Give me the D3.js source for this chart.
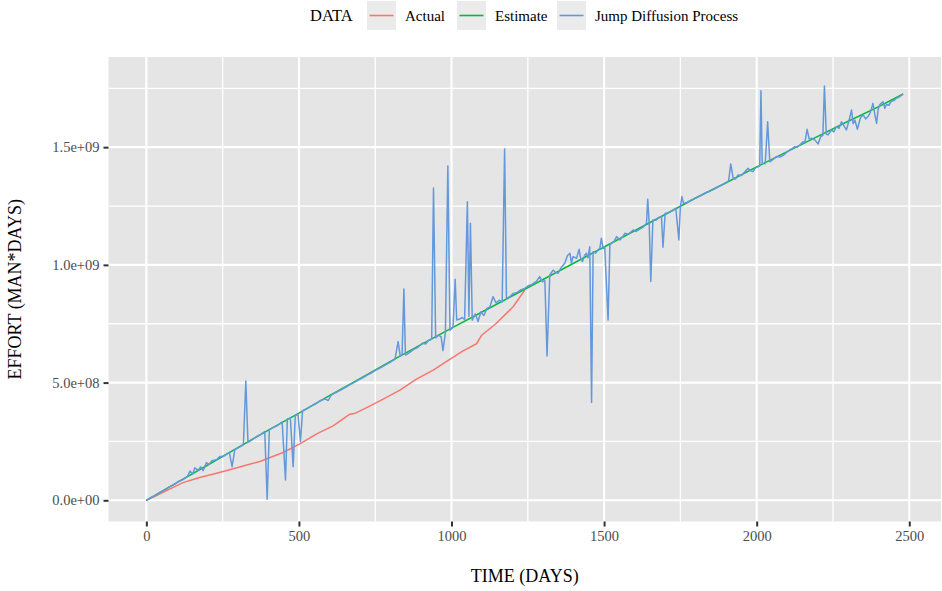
<!DOCTYPE html>
<html>
<head>
<meta charset="utf-8">
<script src="https://cdn.jsdelivr.net/npm/d3@7"></script>
<style>
  html, body { margin: 0; padding: 0; background: #ffffff; }
  svg { display: block; }
  text { font-family: "Liberation Serif", "DejaVu Serif", serif; }
</style>
</head>
<body>
<svg id="chart" width="942" height="591"></svg>
<script>
// ---------------- DATA (values in units of 1e9 man*days) ----------------
const seriesNames = ["Actual", "Estimate", "Jump Diffusion Process"];
const seriesColors = ["#F8766D", "#00BA38", "#6398DB"];
const legendTitle = "DATA";
const xTitle = "TIME (DAYS)";
const yTitle = "EFFORT (MAN*DAYS)";

const xTicks = [0, 500, 1000, 1500, 2000, 2500];
const xTickLabels = ["0", "500", "1000", "1500", "2000", "2500"];
const xMinor = [250, 750, 1250, 1750, 2250];
const yTicks = [0, 5e8, 1e9, 1.5e9];
const yTickLabels = ["0.0e+00", "5.0e+08", "1.0e+09", "1.5e+09"];
const yMinor = [2.5e8, 7.5e8, 1.25e9, 1.75e9];

const actual = [[0,0],[30,0.018],[66,0.041],[120,0.075],[175,0.097],[230,0.115],[285,0.134],[317,0.146],
  [372,0.165],[448,0.203],[503,0.240],[558,0.282],[612,0.316],[667,0.366],[685,0.370],[722,0.394],[776,0.430],
  [831,0.468],[885,0.515],[940,0.553],[984,0.590],[1038,0.635],[1082,0.665],[1098,0.700],[1147,0.752],
  [1202,0.822],[1240,0.893]];

const estimate = [[0,0],[100,0.075],[200,0.149],[300,0.224],[400,0.298],[500,0.370],[600,0.445],[700,0.517],
  [800,0.590],[900,0.661],[1000,0.731],[1100,0.800],[1200,0.869],[1300,0.938],[1400,1.007],[1500,1.076],
  [1600,1.145],[1700,1.214],[1800,1.284],[1900,1.349],[2000,1.416],[2100,1.481],[2200,1.546],[2300,1.610],
  [2400,1.672],[2480,1.726]];

const jump = [[0,0],[15,0.012],[30,0.021],[45,0.035],[60,0.043],[75,0.057],[90,0.066],[105,0.080],[120,0.088],
  [135,0.102],[143,0.124],[152,0.112],[159,0.138],[170,0.127],[178,0.142],[186,0.126],[197,0.160],[205,0.152],
  [215,0.168],[230,0.172],[241,0.186],[252,0.186],[263,0.196],[272,0.203],[281,0.143],[290,0.215],[305,0.226],
  [318,0.236],[326,0.507],[333,0.246],[345,0.256],[360,0.270],[375,0.280],[388,0.292],[396,0.005],[403,0.300],
  [415,0.309],[430,0.318],[445,0.332],[456,0.086],[462,0.345],[472,0.349],[481,0.143],[488,0.360],[497,0.365],
  [505,0.249],[512,0.381],[525,0.388],[540,0.400],[555,0.410],[570,0.423],[585,0.431],[596,0.424],[605,0.446],
  [620,0.457],[635,0.467],[650,0.478],[665,0.489],[680,0.500],[695,0.511],[710,0.521],[725,0.533],[740,0.543],
  [755,0.555],[770,0.565],[785,0.576],[800,0.587],[815,0.600],[825,0.674],[832,0.612],[838,0.618],[844,0.898],
  [849,0.617],[860,0.625],[875,0.640],[890,0.650],[905,0.668],[915,0.664],[925,0.680],[935,0.684],[941,1.327],
  [948,0.690],[958,0.702],[966,0.694],[972,0.636],[980,0.712],[988,1.420],[995,0.722],[1005,0.735],[1012,0.939],
  [1017,0.766],[1026,0.770],[1035,0.776],[1043,0.768],[1052,1.268],[1057,0.782],[1062,1.177],[1068,0.765],
  [1078,0.792],[1087,0.759],[1096,0.800],[1106,0.785],[1116,0.815],[1126,0.822],[1136,0.865],[1146,0.838],
  [1156,0.850],[1166,0.842],[1174,1.492],[1180,0.858],[1192,0.866],[1202,0.879],[1215,0.883],[1228,0.895],
  [1240,0.900],[1252,0.912],[1265,0.918],[1278,0.930],[1289,0.950],[1298,0.928],[1306,0.933],[1313,0.613],
  [1322,0.957],[1333,0.978],[1341,0.968],[1349,0.964],[1360,0.990],[1371,1.007],[1380,1.040],[1388,1.049],
  [1393,1.007],[1398,1.035],[1410,1.028],[1418,1.066],[1423,1.030],[1429,1.014],[1436,1.040],[1442,1.049],
  [1447,1.030],[1453,1.077],[1459,0.415],[1464,1.056],[1472,1.050],[1480,1.063],[1486,1.070],[1491,1.113],
  [1497,1.070],[1502,1.077],[1513,0.766],[1519,1.085],[1524,1.092],[1533,1.100],[1541,1.120],[1552,1.106],
  [1560,1.118],[1568,1.134],[1580,1.130],[1595,1.148],[1605,1.142],[1617,1.152],[1628,1.160],[1639,1.177],
  [1643,1.279],[1648,1.170],[1653,0.929],[1660,1.191],[1670,1.190],[1680,1.202],[1688,1.205],[1693,1.075],
  [1700,1.218],[1712,1.222],[1725,1.232],[1735,1.240],[1745,1.106],[1750,1.248],[1755,1.290],[1760,1.262],
  [1772,1.265],[1785,1.275],[1800,1.284],[1815,1.293],[1830,1.305],[1845,1.312],[1860,1.322],[1875,1.333],
  [1890,1.342],[1900,1.350],[1908,1.356],[1915,1.429],[1923,1.368],[1931,1.365],[1939,1.382],[1950,1.380],
  [1961,1.395],[1972,1.410],[1980,1.400],[1988,1.396],[1996,1.412],[2004,1.417],[2010,1.420],[2014,1.740],
  [2018,1.432],[2021,1.432],[2028,1.430],[2036,1.608],[2043,1.438],[2054,1.448],[2065,1.460],[2076,1.458],
  [2087,1.465],[2098,1.478],[2108,1.488],[2117,1.495],[2125,1.502],[2133,1.500],[2141,1.509],[2152,1.523],
  [2158,1.520],[2165,1.576],[2172,1.535],[2180,1.538],[2191,1.530],[2201,1.514],[2210,1.545],[2217,1.550],
  [2222,1.760],[2228,1.556],[2234,1.552],[2245,1.573],[2253,1.565],[2261,1.587],[2270,1.580],[2278,1.608],
  [2286,1.590],[2294,1.573],[2302,1.610],[2311,1.658],[2316,1.600],[2322,1.615],[2330,1.576],[2340,1.625],
  [2349,1.637],[2357,1.620],[2365,1.630],[2373,1.650],[2381,1.686],[2387,1.640],[2393,1.601],[2398,1.660],
  [2404,1.682],[2414,1.693],[2420,1.665],[2425,1.681],[2433,1.678],[2441,1.695],[2450,1.698],[2458,1.708],
  [2466,1.712],[2474,1.720],[2480,1.726]];

const UNIT = 1e9;

// ---------------- LAYOUT ----------------
const svg = d3.select("#chart");
const panel = { left: 108.5, right: 941, top: 57, bottom: 521.5 };

const x = d3.scaleLinear().domain([-124, 2604]).range([panel.left, panel.right]);
const y = d3.scaleLinear().domain([-0.09e9, 1.883e9]).range([panel.bottom, panel.top]);

// panel background
svg.append("rect")
  .attr("x", panel.left).attr("y", panel.top)
  .attr("width", panel.right - panel.left).attr("height", panel.bottom - panel.top)
  .attr("fill", "#E5E5E5");

const grid = svg.append("g");
grid.selectAll(".xm").data(xMinor).join("line")
  .attr("x1", d => x(d)).attr("x2", d => x(d))
  .attr("y1", panel.top).attr("y2", panel.bottom)
  .attr("stroke", "#fff").attr("stroke-width", 1.3);
grid.selectAll(".ym").data(yMinor).join("line")
  .attr("y1", d => y(d)).attr("y2", d => y(d))
  .attr("x1", panel.left).attr("x2", panel.right)
  .attr("stroke", "#fff").attr("stroke-width", 1.3);
grid.selectAll(".xM").data(xTicks).join("line")
  .attr("x1", d => x(d)).attr("x2", d => x(d))
  .attr("y1", panel.top).attr("y2", panel.bottom)
  .attr("stroke", "#fff").attr("stroke-width", 2.1);
grid.selectAll(".yM").data(yTicks).join("line")
  .attr("y1", d => y(d)).attr("y2", d => y(d))
  .attr("x1", panel.left).attr("x2", panel.right)
  .attr("stroke", "#fff").attr("stroke-width", 2.1);

// lines
const line = d3.line().x(d => x(d[0])).y(d => y(d[1] * UNIT));
svg.append("clipPath").attr("id", "clip").append("rect")
  .attr("x", panel.left).attr("y", panel.top)
  .attr("width", panel.right - panel.left).attr("height", panel.bottom - panel.top);
const lines = svg.append("g").attr("clip-path", "url(#clip)");
[actual, estimate, jump].forEach((s, i) => {
  lines.append("path").datum(s)
    .attr("d", line)
    .attr("fill", "none")
    .attr("stroke", seriesColors[i])
    .attr("stroke-width", 1.5)
    .attr("stroke-linejoin", "round");
});

// axes
const xAxis = d3.axisBottom(x).tickValues(xTicks)
  .tickFormat((d, i) => xTickLabels[i]).tickSize(5).tickPadding(4);
const gx = svg.append("g").attr("transform", `translate(0,${panel.bottom})`).call(xAxis);
gx.select(".domain").remove();
gx.selectAll(".tick line").attr("stroke", "#333333").attr("stroke-width", 2);
gx.selectAll(".tick text").attr("fill", "#4D4D4D").attr("font-size", 14.5)
  .attr("font-family", "Liberation Serif, serif");

const yAxis = d3.axisLeft(y).tickValues(yTicks)
  .tickFormat((d, i) => yTickLabels[i]).tickSize(5).tickPadding(4);
const gy = svg.append("g").attr("transform", `translate(${panel.left},0)`).call(yAxis);
gy.select(".domain").remove();
gy.selectAll(".tick line").attr("stroke", "#333333").attr("stroke-width", 2);
gy.selectAll(".tick text").attr("fill", "#4D4D4D").attr("font-size", 14.5)
  .attr("font-family", "Liberation Serif, serif");

// axis titles
svg.append("text")
  .attr("x", (panel.left + panel.right) / 2).attr("y", 582)
  .attr("text-anchor", "middle").attr("font-size", 18).attr("fill", "#000")
  .text(xTitle);
svg.append("text")
  .attr("transform", `translate(21,${(panel.top + panel.bottom) / 2}) rotate(-90)`)
  .attr("text-anchor", "middle").attr("font-size", 18).attr("fill", "#000")
  .text(yTitle);

// legend
const legend = svg.append("g");
legend.append("text").attr("x", 310).attr("y", 21)
  .attr("font-size", 16.5).attr("fill", "#000").text(legendTitle);
const keyX = [367, 457, 557];
seriesNames.forEach((name, i) => {
  const g = legend.append("g").attr("transform", `translate(${keyX[i]},1)`);
  g.append("rect").attr("width", 29).attr("height", 29).attr("fill", "#EBEBEB");
  g.append("line").attr("x1", 2.5).attr("x2", 26.5).attr("y1", 14.5).attr("y2", 14.5)
    .attr("stroke", seriesColors[i]).attr("stroke-width", 1.6);
  g.append("text").attr("x", 38).attr("y", 19.5)
    .attr("font-size", 15).attr("fill", "#000").text(name);
});
</script>
</body>
</html>
